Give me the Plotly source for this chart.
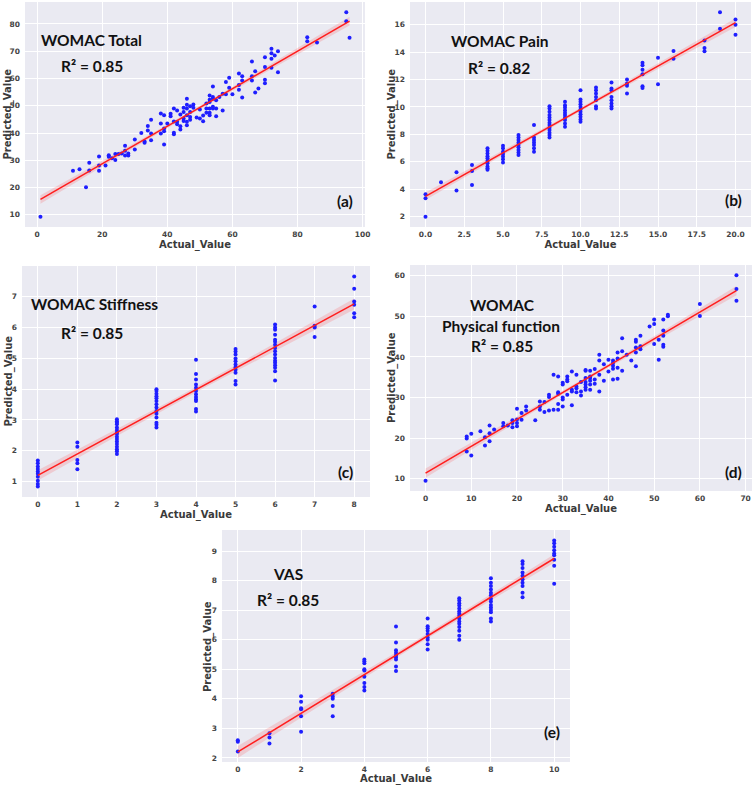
import numpy as np
import plotly.graph_objects as go

# ---------------- data ----------------
A_ACTUAL = [1, 11, 13, 15, 16, 16, 19, 19, 19, 21, 22, 22, 23, 24, 24, 25, 26, 27, 27, 27, 28, 28,
            30, 30, 32, 33, 33, 34, 34, 35, 35, 35, 38, 38, 38, 39, 39, 39, 39, 40, 41, 41,
            42, 42, 42, 42, 43, 43, 43, 44, 44, 44, 45, 45, 45, 45, 46, 46, 46, 46, 46, 46,
            47, 47, 47, 47, 48, 48, 49, 50, 50, 51, 51, 52, 52, 52, 53, 53, 53, 53, 53, 53,
            54, 54, 54, 54, 54, 55, 55, 55, 56, 57, 57, 58, 58, 59, 59, 60, 62, 62, 62,
            63, 63, 63, 66, 66, 66, 67, 67, 68, 70, 70, 70, 70, 72, 72, 72, 72, 73, 74, 74,
            83, 83, 86, 95, 95, 96]
A_PRED = [9.3, 26.2, 26.7, 20.1, 29.1, 26.3, 31.4, 28.1, 26.2, 28.1, 31.9, 31.3, 30.8, 32.3, 30.1,
          32.3, 32.5, 35.3, 33.5, 31.8, 32.5, 31.8, 34.0, 37.6, 40.0, 36.9, 36.4, 42.6, 40.9,
          44.9, 39.8, 37.4, 47.2, 43.5, 39.8, 46.5, 41.7, 40.7, 35.8, 43.5, 47.1, 46.2,
          49.0, 44.2, 40.1, 39.6, 48.3, 44.1, 43.2, 46.8, 42.5, 41.3, 49.3, 47.7, 45.3, 44.4,
          52.6, 50.4, 49.0, 46.5, 44.1, 42.9, 49.8, 47.7, 45.9, 44.9, 50.5, 49.3, 45.7, 48.6,
          45.3, 46.4, 44.3, 50.8, 49.0, 47.4, 53.8, 52.2, 51.4, 49.0, 47.4, 46.5,
          57.1, 53.2, 52.6, 49.6, 49.0, 52.0, 49.0, 46.2, 53.2, 54.4, 48.3, 58.7, 54.2, 60.3,
          56.6, 54.2, 61.8, 57.6, 55.9, 60.8, 59.3, 53.0, 66.2, 60.8, 59.3, 62.7, 54.9, 56.3,
          67.8, 64.2, 59.5, 58.3, 70.9, 69.3, 67.2, 63.9, 68.4, 70.0, 62.3, 75.1, 73.7, 73.2,
          84.3, 81.0, 74.9]

B_ACTUAL = [0, 0, 0, 1, 2, 2, 3, 3, 3,
            4, 4, 4, 4, 4, 4, 4, 4, 4, 4,
            5, 5, 5, 5, 5, 5, 5,
            6, 6, 6, 6, 6, 6, 6, 6, 6,
            7, 7, 7, 7, 7, 7, 7,
            8, 8, 8, 8, 8, 8, 8, 8, 8, 8, 8, 8, 8,
            9, 9, 9, 9, 9, 9, 9, 9, 9, 9,
            10, 10, 10, 10, 10, 10, 10, 10, 10, 10, 10,
            11, 11, 11, 11, 11, 11, 11,
            12, 12, 12, 12, 12, 12, 12, 12,
            13, 13, 13, 13,
            14, 14, 14, 14, 14, 14,
            15, 15, 16, 16, 18, 18, 18, 19, 19, 20, 20, 20]
B_PRED = [3.62, 3.33, 1.97, 4.50, 5.23, 3.89, 5.76, 5.32, 4.30,
          6.97, 6.80, 6.60, 6.40, 6.25, 6.05, 5.88, 5.64, 5.52, 5.40,
          7.17, 6.97, 6.73, 6.56, 6.37, 6.17, 5.93,
          7.94, 7.77, 7.58, 7.39, 7.22, 7.05, 6.85, 6.66, 6.49,
          8.67, 7.77, 7.58, 7.39, 7.22, 6.97, 6.73,
          10.05, 9.88, 9.64, 9.40, 9.23, 9.04, 8.84, 8.67, 8.48, 8.31, 8.11, 7.94, 7.77,
          10.37, 10.13, 9.96, 9.76, 9.57, 9.40, 9.23, 9.04, 8.79, 8.55,
          11.22, 10.54, 10.37, 10.20, 10.01, 9.81, 9.64, 9.47, 9.28, 9.08, 8.91,
          11.41, 11.22, 10.98, 10.73, 10.49, 10.05, 9.88,
          11.78, 11.34, 11.22, 10.73, 10.49, 10.25, 10.05, 9.88,
          12.00, 11.71, 11.54, 10.98,
          13.23, 13.04, 12.72, 12.38, 11.51, 11.39,
          13.60, 11.66, 14.08, 13.52, 14.86, 14.30, 14.06, 16.92, 15.71, 16.39, 16.00, 15.27]

C_ACTUAL = [0] * 10 + [1] * 5 + [2] * 16 + [3] * 14 + [4] * 12 + [5] * 11 + [6] * 17 + [7] * 4 + [8] * 6
C_PRED = [1.68, 1.59, 1.49, 1.41, 1.33, 1.25, 1.16, 1.03, 0.92, 0.84,
          2.27, 2.13, 1.70, 1.59, 1.40,
          3.02, 2.96, 2.91, 2.86, 2.75, 2.67, 2.59, 2.54, 2.45, 2.38, 2.30, 2.22, 2.13, 2.05, 1.98, 1.89,
          3.99, 3.94, 3.85, 3.77, 3.70, 3.61, 3.51, 3.40, 3.29, 3.20, 3.08, 2.91, 2.84, 2.75,
          4.95, 4.49, 4.31, 4.15, 4.04, 3.94, 3.83, 3.74, 3.67, 3.61, 3.35, 3.27,
          5.30, 5.22, 5.12, 4.99, 4.90, 4.80, 4.71, 4.63, 4.53, 4.26, 4.15,
          6.09, 6.00, 5.92, 5.76, 5.60, 5.53, 5.44, 5.33, 5.23, 5.12, 5.01, 4.92, 4.85, 4.77, 4.69, 4.58, 4.28,
          6.68, 6.05, 6.00, 5.69,
          7.65, 7.25, 6.84, 6.73, 6.46, 6.33]

D_ACTUAL = [0, 9, 9, 9, 10, 10, 12, 13, 13, 14, 14, 14, 15, 17, 17, 18, 19, 19, 19,
            20, 20, 20, 20, 21, 21, 22, 22, 24, 25, 25, 25, 26, 26, 27, 27, 27, 28, 28,
            29, 29, 29, 29, 29, 30, 30, 30, 30, 30, 31, 31, 31, 31, 32, 32, 32, 32,
            33, 33, 33, 33, 34, 34, 34, 35, 35, 35, 35, 35, 35, 35, 36, 36, 36, 36, 36, 36,
            37, 37, 37, 38, 38, 38, 38, 39, 39, 40, 40, 41, 41, 41, 41, 41, 42, 42, 42, 42,
            43, 43, 43, 44, 45, 46, 46, 46, 46, 46, 47, 47, 47, 49, 50, 50, 50, 51, 51,
            52, 52, 52, 52, 52, 53, 53, 60, 60, 68, 68, 68]
D_PRED = [9.5, 20.4, 19.9, 16.7, 21.1, 15.7, 21.7, 20.2, 18.2, 23.1, 21.2, 19.2, 22.1, 23.7, 22.9,
          23.1, 24.4, 23.7, 22.7, 27.2, 24.6, 23.7, 22.9, 26.2, 24.5, 27.8, 26.8, 24.4, 29.0,
          27.8, 27.0, 28.9, 26.4, 30.7, 30.1, 26.8, 35.6, 27.0,
          35.2, 31.3, 30.9, 28.4, 27.0, 33.6, 33.2, 30.0, 29.5, 27.8, 35.2, 34.4, 34.0, 30.7,
          36.4, 31.9, 31.5, 28.1, 35.6, 32.7, 32.3, 31.3, 33.8, 31.5, 30.5,
          36.8, 36.6, 34.8, 33.8, 33.2, 32.5, 31.9, 36.6, 35.2, 34.8, 34.1, 33.2, 31.9,
          37.0, 34.4, 33.4, 40.5, 39.1, 35.6, 31.5, 38.2, 34.1, 39.3, 36.4,
          39.1, 38.5, 37.8, 37.1, 34.4, 41.1, 39.6, 37.3, 34.6,
          44.6, 41.4, 36.6, 40.5, 39.1, 44.2, 43.7, 42.3, 41.1, 37.7, 45.2, 42.6, 41.9,
          47.5, 49.2, 48.1, 43.2, 44.2, 39.3, 49.2, 46.5, 45.2, 43.0, 42.5, 50.4, 50.0,
          53.0, 50.1, 60.1, 56.7, 53.8]

E_ACTUAL = [0] * 3 + [1] * 3 + [2] * 6 + [3] * 5 + [4] * 9 + [5] * 9 + [6] * 9 + [7] * 15 + [8] * 14 + [9] * 10 + [10] * 9
E_PRED = [2.60, 2.55, 2.22,
          2.84, 2.69, 2.49,
          4.09, 3.90, 3.68, 3.65, 3.41, 2.89,
          4.17, 4.08, 4.00, 3.76, 3.41,
          5.33, 5.27, 5.21, 5.00, 4.96, 4.75, 4.54, 4.40, 4.28,
          6.45, 5.91, 5.65, 5.56, 5.48, 5.41, 5.33, 5.10, 4.94,
          6.72, 6.46, 6.39, 6.31, 6.20, 6.08, 6.00, 5.85, 5.67,
          7.41, 7.33, 7.24, 7.16, 7.06, 6.97, 6.89, 6.81, 6.72, 6.62, 6.54, 6.43, 6.31, 6.14, 6.00,
          8.08, 7.93, 7.82, 7.70, 7.59, 7.51, 7.39, 7.30, 7.18, 7.09, 7.01, 6.93, 6.72, 6.62,
          8.66, 8.57, 8.43, 8.28, 8.17, 8.05, 7.93, 7.82, 7.59, 7.44,
          9.36, 9.27, 9.15, 9.03, 8.92, 8.86, 8.71, 8.51, 7.90]

A_TICKS_X = [0, 20, 40, 60, 80, 100]
A_TICKS_Y = [10, 20, 30, 40, 50, 60, 70, 80]
B_TICKS_X = [0.0, 2.5, 5.0, 7.5, 10.0, 12.5, 15.0, 17.5, 20.0]
B_TICKS_Y = [2, 4, 6, 8, 10, 12, 14, 16]
C_TICKS_X = [0, 1, 2, 3, 4, 5, 6, 7, 8]
C_TICKS_Y = [1, 2, 3, 4, 5, 6, 7]
D_TICKS_X = [0, 10, 20, 30, 40, 50, 60, 70]
D_TICKS_Y = [10, 20, 30, 40, 50, 60]
E_TICKS_X = [0, 2, 4, 6, 8, 10]
E_TICKS_Y = [2, 3, 4, 5, 6, 7, 8, 9]

TITLES = [["WOMAC Total"], ["WOMAC Pain"], ["WOMAC Stiffness"], ["WOMAC", "Physical function"], ["VAS"]]
R2_LABELS = ["R² = 0.85", "R² = 0.82", "R² = 0.85", "R² = 0.85", "R² = 0.85"]
PANEL_LABELS = ["(a)", "(b)", "(c)", "(d)", "(e)"]

# ---------------- layout ----------------
W, H = 753, 785
BG = "#EAEAF2"
TICK_FONT = dict(family="DejaVu Sans", size=7.5, color="#444444", weight="bold")
AX_FONT = dict(family="DejaVu Sans", size=10, color="#3a3a3a", weight="bold")
ANN_FONT = dict(family="Lato", size=15.5, color="#111111", weight="bold")

# pixel boxes: left, right, top, bottom
panels = [
    dict(x=A_ACTUAL, y=A_PRED, box=(25, 365, 2, 227), tx=A_TICKS_X, ty=A_TICKS_Y, fmt=None,
         title_xy=[(91, 40)], r2_xy=(92, 66), lab_xy=(345, 201), ytitle_x=8),
    dict(x=B_ACTUAL, y=B_PRED, box=(410, 751, 2, 227), tx=B_TICKS_X, ty=B_TICKS_Y, fmt=".1f",
         title_xy=[(500, 41)], r2_xy=(499, 68), lab_xy=(733, 200), ytitle_x=392),
    dict(x=C_ACTUAL, y=C_PRED, box=(22, 370, 266, 497), tx=C_TICKS_X, ty=C_TICKS_Y, fmt=None,
         title_xy=[(94, 304)], r2_xy=(92, 333), lab_xy=(345, 472), ytitle_x=8),
    dict(x=D_ACTUAL, y=D_PRED, box=(410, 752, 265, 491), tx=D_TICKS_X, ty=D_TICKS_Y, fmt=None,
         title_xy=[(502, 305), (501, 326)], r2_xy=(502, 346), lab_xy=(733, 472), ytitle_x=392),
    dict(x=E_ACTUAL, y=E_PRED, box=(222, 570, 530, 762), tx=E_TICKS_X, ty=E_TICKS_Y, fmt=None,
         title_xy=[(288, 574)], r2_xy=(288, 600), lab_xy=(552, 732), ytitle_x=208),
]

fig = go.Figure()
annotations = []

def px_x(p):
    return p / W

def px_y(p):
    return 1 - p / H

for i, p in enumerate(panels):
    k = "" if i == 0 else str(i + 1)
    xa, ya = "x" + k, "y" + k
    x = np.asarray(p["x"], dtype=float)
    y = np.asarray(p["y"], dtype=float)

    # linear fit + 95% confidence band
    n = len(x)
    slope, intercept = np.polyfit(x, y, 1)
    xg = np.linspace(x.min(), x.max(), 100)
    yg = intercept + slope * xg
    resid = y - (intercept + slope * x)
    s = np.sqrt(np.sum(resid ** 2) / (n - 2))
    sxx = np.sum((x - x.mean()) ** 2)
    se = s * np.sqrt(1.0 / n + (xg - x.mean()) ** 2 / sxx)
    t = 1.97
    upper, lower = yg + t * se, yg - t * se

    fig.add_trace(go.Scatter(x=np.concatenate([xg, xg[::-1]]), y=np.concatenate([upper, lower[::-1]]),
                             fill="toself", fillcolor="rgba(255,60,60,0.18)", line=dict(width=0),
                             mode="lines", hoverinfo="skip", showlegend=False, xaxis=xa, yaxis=ya))
    fig.add_trace(go.Scatter(x=x, y=y, mode="markers",
                             marker=dict(color="rgb(30,30,255)", size=4, line=dict(width=0)),
                             showlegend=False, xaxis=xa, yaxis=ya))
    fig.add_trace(go.Scatter(x=xg, y=yg, mode="lines", line=dict(color="rgb(255,30,30)", width=1.5),
                             showlegend=False, hoverinfo="skip", xaxis=xa, yaxis=ya))

    xr = x.max() - x.min()
    yr = y.max() - y.min()
    l, r, tp, b = p["box"]
    xaxis = dict(domain=[px_x(l), px_x(r)], anchor=ya, range=[x.min() - 0.05 * xr, x.max() + 0.05 * xr],
                 tickmode="array", tickvals=p["tx"],
                 ticktext=[format(v, p["fmt"]) if p["fmt"] else str(v) for v in p["tx"]],
                 showgrid=True, gridcolor="white", gridwidth=1, zeroline=False, showline=False,
                 ticks="", ticklen=0, tickfont=TICK_FONT, ticklabelstandoff=1, automargin=False,
                 title=dict(text="Actual_Value", font=AX_FONT, standoff=0))
    yaxis = dict(domain=[px_y(b), px_y(tp)], anchor=xa, range=[y.min() - 0.05 * yr, y.max() + 0.05 * yr],
                 tickmode="array", tickvals=p["ty"], ticktext=[str(v) for v in p["ty"]],
                 showgrid=True, gridcolor="white", gridwidth=1, zeroline=False, showline=False,
                 ticks="", ticklen=0, tickfont=TICK_FONT, ticklabelstandoff=4, automargin=False)
    fig.layout["xaxis" + k] = xaxis
    fig.layout["yaxis" + k] = yaxis
    fig.add_shape(type="rect", xref="paper", yref="paper", x0=px_x(l), x1=px_x(r), y0=px_y(b), y1=px_y(tp),
                  fillcolor=BG, line=dict(width=0), layer="below")

    # y axis title placed explicitly (rotated)
    annotations.append(dict(text="Predicted_Value", x=px_x(p["ytitle_x"]), y=px_y((tp + b) / 2),
                            xref="paper", yref="paper", showarrow=False, textangle=-90, font=AX_FONT,
                            xanchor="center", yanchor="middle"))

    for txt, (cx, cy) in zip(TITLES[i], p["title_xy"]):
        annotations.append(dict(text=txt, x=px_x(cx), y=px_y(cy), xref="paper", yref="paper",
                                showarrow=False, font=ANN_FONT, xanchor="center", yanchor="middle"))
    cx, cy = p["r2_xy"]
    annotations.append(dict(text=R2_LABELS[i], x=px_x(cx), y=px_y(cy), xref="paper", yref="paper",
                            showarrow=False, font=ANN_FONT, xanchor="center", yanchor="middle"))
    cx, cy = p["lab_xy"]
    annotations.append(dict(text=PANEL_LABELS[i], x=px_x(cx), y=px_y(cy), xref="paper", yref="paper",
                            showarrow=False, font=ANN_FONT, xanchor="center", yanchor="middle"))

fig.update_layout(width=W, height=H, margin=dict(l=0, r=0, t=0, b=0, autoexpand=False),
                  paper_bgcolor="white", plot_bgcolor="rgba(0,0,0,0)", annotations=annotations,
                  showlegend=False)

fig.write_html("out.html", config={"displayModeBar": False},
               post_script="document.body.style.margin='0';document.body.style.overflow='hidden';")
